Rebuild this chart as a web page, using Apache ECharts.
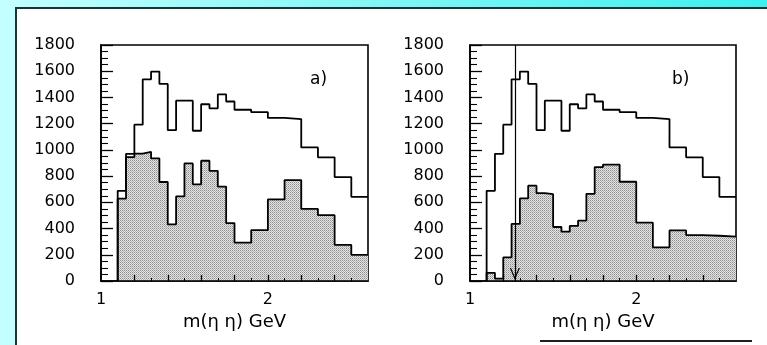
<!DOCTYPE html>
<html>
<head>
<meta charset="utf-8">
<script src="https://cdn.jsdelivr.net/npm/echarts@6/dist/echarts.min.js"></script>
<style>
  html, body { margin: 0; padding: 0; }
  body { width: 767px; height: 345px; position: relative; overflow: hidden; background: #c4ffff; }
  #band { position: absolute; left: 0; top: 0; width: 767px; height: 7px; background: linear-gradient(to right, #c4ffff, #8ff8f8 40%, #3cefef); }
  #panel { position: absolute; left: 15px; top: 7px; width: 752px; height: 338px; background: #ffffff; border-top: 2px solid #103838; border-left: 2px solid #103838; box-sizing: border-box; }
  #rule { position: absolute; left: 540px; top: 340px; width: 212px; height: 0; border-top: 2px solid #202020; }
  #chart { position: absolute; left: 0; top: 0; width: 767px; height: 345px; }
</style>
</head>
<body>
<div id="band"></div>
<div id="panel"></div>
<div id="rule"></div>
<div id="chart"></div>
<script>
// ---- data ----
// bin edges of m(eta eta) in GeV: 0.05 GeV bins up to 1.8, 0.1 GeV bins above
const binEdges = [1.10, 1.15, 1.20, 1.25, 1.30, 1.35, 1.40, 1.45, 1.50, 1.55, 1.60, 1.65, 1.70, 1.75,
                  1.80, 1.90, 2.00, 2.10, 2.20, 2.30, 2.40, 2.50, 2.60];
// total spectrum (open histogram), same in both panels
const totalCounts = [688, 970, 1192, 1538, 1597, 1503, 1150, 1375, 1375, 1146, 1348, 1317, 1423, 1369,
                     1306, 1288, 1244, 1235, 1019, 943, 793, 642];
// panel a) shaded histogram
const shadedA = [628, 945, 972, 985, 935, 755, 432, 645, 897, 737, 917, 840, 720, 442,
                 292, 388, 622, 770, 550, 502, 275, 200];
// panel b) shaded histogram
const shadedB = [62, 18, 180, 435, 630, 727, 670, 662, 412, 376, 420, 460, 665, 869,
                 888, 757, 445, 257, 386, 350, 345, 338];
// cut position drawn in panel b)
const cutMass = 1.27;
// axis ticks
const yTicks = [0, 200, 400, 600, 800, 1000, 1200, 1400, 1600, 1800];
const yMinorTicks = [50, 100, 150, 250, 300, 350, 450, 500, 550, 650, 700, 750, 850, 900, 950,
                     1050, 1100, 1150, 1250, 1300, 1350, 1450, 1500, 1550, 1650, 1700, 1750];
const xTicks = [1.2, 1.4, 1.6, 1.8, 2.0, 2.2, 2.4];
const xMinorTicks = [1.1, 1.3, 1.5, 1.7, 1.9, 2.1, 2.3, 2.5];
const xLabels = [1, 2];
const xName = 'm(\u03b7 \u03b7) GeV';
const panelLabels = ['a)', 'b)'];

// ---- helpers ----
function stepPoints(vals) {
  const pts = [[binEdges[0], 0]];
  for (let i = 0; i < vals.length; i++) pts.push([binEdges[i], vals[i]]);
  pts.push([binEdges[binEdges.length - 1], vals[vals.length - 1]]);
  return pts;
}
function makePattern() {
  const c = document.createElement('canvas');
  c.width = 2; c.height = 2;
  const g = c.getContext('2d');
  g.fillStyle = '#e4e4e4'; g.fillRect(0, 0, 2, 2);
  g.fillStyle = '#8c8c8c'; g.fillRect(0, 0, 1, 1);
  g.fillStyle = '#b4b4b4'; g.fillRect(1, 1, 1, 1);
  return c;
}
const pattern = { image: makePattern(), repeat: 'repeat' };
const FONT = 'DejaVu Sans';
const X_MIN = 1, X_MAX = 2.6;

function xMain(gi) {
  return {
    type: 'value', gridIndex: gi, min: X_MIN, max: X_MAX, position: 'bottom', z: 10,
    name: xName, nameLocation: 'middle', nameGap: 30,
    nameTextStyle: { fontFamily: FONT, fontSize: 18, color: '#000' },
    axisLine: { show: true, onZero: false, lineStyle: { color: '#000', width: 1.6 } },
    axisTick: { show: true, inside: true, length: 6, customValues: xTicks, lineStyle: { color: '#000', width: 1.3 } },
    splitLine: { show: false },
    axisLabel: { fontFamily: FONT, fontSize: 16, color: '#000', margin: 11, customValues: xLabels,
      formatter: v => String(Math.round(v)) }
  };
}
function xMinor(gi) {
  return {
    type: 'value', gridIndex: gi, min: X_MIN, max: X_MAX, position: 'bottom', offset: 0, z: 10,
    axisLine: { show: false, onZero: false },
    axisTick: { show: true, inside: true, length: 3, customValues: xMinorTicks, lineStyle: { color: '#000', width: 1 } },
    splitLine: { show: false },
    axisLabel: { show: false }
  };
}
function yMain(gi) {
  return {
    type: 'value', gridIndex: gi, min: yTicks[0], max: yTicks[yTicks.length - 1], position: 'left', z: 10,
    axisLine: { show: true, onZero: false, lineStyle: { color: '#000', width: 1.6 } },
    axisTick: { show: true, inside: true, length: 12, customValues: yTicks, lineStyle: { color: '#000', width: 1.3 } },
    splitLine: { show: false },
    axisLabel: { fontFamily: FONT, fontSize: 16, color: '#000', margin: 26, customValues: yTicks, formatter: v => String(v) }
  };
}
function yMinor(gi) {
  return {
    type: 'value', gridIndex: gi, min: yTicks[0], max: yTicks[yTicks.length - 1], position: 'left', offset: 0, z: 10,
    axisLine: { show: false, onZero: false },
    axisTick: { show: true, inside: true, length: 7, customValues: yMinorTicks, lineStyle: { color: '#000', width: 1.1 } },
    splitLine: { show: false },
    axisLabel: { show: false }
  };
}
function shadedSeries(idx, vals) {
  return {
    type: 'line', xAxisIndex: idx, yAxisIndex: idx, step: 'end', data: stepPoints(vals),
    symbol: 'none', silent: true, z: 2,
    lineStyle: { color: '#000', width: 1.8 },
    areaStyle: { color: pattern, opacity: 1 }
  };
}
function openSeries(idx) {
  return {
    type: 'line', xAxisIndex: idx, yAxisIndex: idx, step: 'end', data: stepPoints(totalCounts),
    symbol: 'none', silent: true, z: 3,
    lineStyle: { color: '#000', width: 1.8 }
  };
}

const chart = echarts.init(document.getElementById('chart'));
const serB = shadedSeries(1, shadedB);
serB.markLine = {
  silent: true, animation: false,
  symbol: ['path://M5,0 L10,12 L8.8,12 L5,3 L1.2,12 L0,12 Z', 'none'],
  symbolSize: [10, 12], symbolOffset: [[0, 7], 0],
  label: { show: false },
  lineStyle: { color: '#000', width: 1.2, type: 'solid' },
  data: [{ xAxis: cutMass }]
};
chart.setOption({
  animation: false,
  grid: [
    { left: 101, top: 45, width: 267, height: 236, show: true, borderColor: '#000', borderWidth: 1.6 },
    { left: 470, top: 45, width: 266, height: 236, show: true, borderColor: '#000', borderWidth: 1.6 }
  ],
  xAxis: [xMain(0), xMain(1), xMinor(0), xMinor(1)],
  yAxis: [yMain(0), yMain(1), yMinor(0), yMinor(1)],
  graphic: [
    { type: 'text', left: 310, top: 71, style: { text: panelLabels[0], fontFamily: FONT, fontSize: 17, fill: '#000' } },
    { type: 'text', left: 672, top: 71, style: { text: panelLabels[1], fontFamily: FONT, fontSize: 17, fill: '#000' } }
  ],
  series: [shadedSeries(0, shadedA), openSeries(0), serB, openSeries(1)]
});
</script>
</body>
</html>
